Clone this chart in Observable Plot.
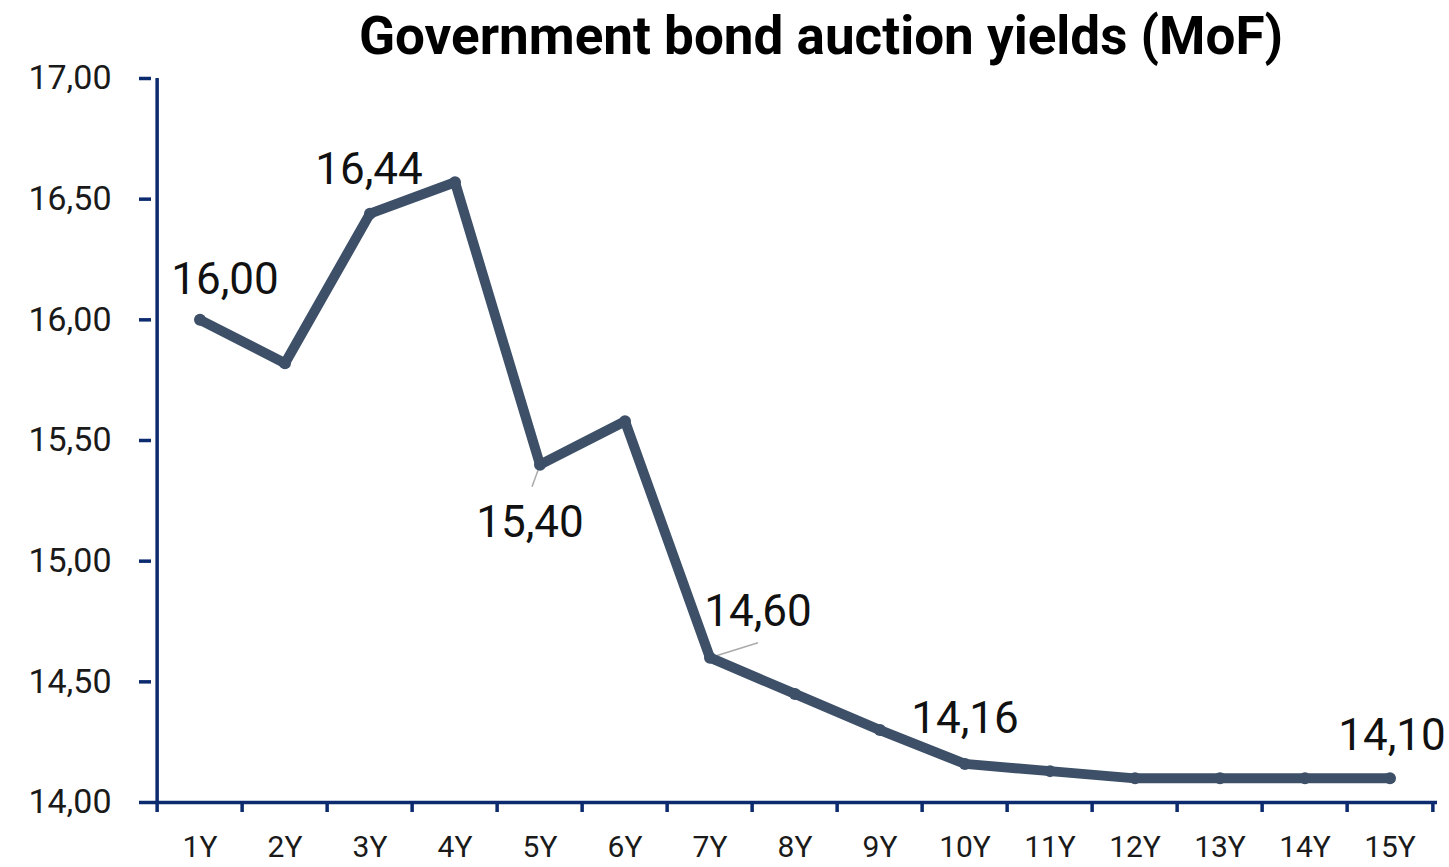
<!DOCTYPE html>
<html>
<head>
<meta charset="utf-8">
<script src="https://cdn.jsdelivr.net/npm/d3@7"></script>
<script src="https://cdn.jsdelivr.net/npm/@observablehq/plot@0.6"></script>
<style>
  html, body { margin: 0; padding: 0; background: #fff; overflow: hidden; }
  #title { position: absolute; left: 0; top: 0; width: 1449px; height: 30px; font-family: Roboto, sans-serif; font-weight: 700; font-size: 53px; color: #000; z-index: 2; }
  #title span { position: absolute; left: 821px; top: 7px; transform: translateX(-50%); white-space: nowrap; line-height: 1.1; }
  #chart { position: absolute; left: 0; top: 30px; z-index: 1; }
</style>
</head>
<body>
<div id="title"><span>Government bond auction yields (MoF)</span></div>
<div id="chart"></div>
<script>
const tenors = ["1Y","2Y","3Y","4Y","5Y","6Y","7Y","8Y","9Y","10Y","11Y","12Y","13Y","14Y","15Y"];
const yields = [16.00, 15.82, 16.44, 16.57, 15.40, 15.58, 14.60, 14.45, 14.30, 14.16, 14.13, 14.10, 14.10, 14.10, 14.10];
const yTicks = [14, 14.5, 15, 15.5, 16, 16.5, 17];
const labelBelow = ["5Y"];
const labelRight = ["7Y"];

const data = tenors.map((t, i) => ({tenor: t, value: yields[i]}));
const fmt = v => v.toFixed(2).replace(".", ",");
const axisColor = "#0c2a6e";
const lineColor = "#3d5068";
const W = 1449, H = 837;
const mL = 151, mR = 12, mT = 48, mB = 65;
const bw = (W - mL - mR) / tenors.length;
const pick = arr => data.filter(d => arr.includes(d.tenor));

const leader = (ddx, ddy) => (index, scales, values, dims, ctx, next) => {
  const g = next(index, scales, values, dims, ctx);
  d3.select(g).selectAll("path").attr("d", (_, j) => {
    const i = index[j]; const x = values.x1[i], y = values.y1[i];
    return `M${x},${y}L${x + ddx},${y + ddy}`;
  });
  return g;
};

const chart = Plot.plot({
  width: W, height: H,
  marginLeft: mL, marginRight: mR, marginTop: mT, marginBottom: mB,
  style: {fontFamily: "Roboto, sans-serif", background: "transparent", overflow: "visible"},
  x: {type: "band", domain: tenors, padding: 0, label: null},
  y: {domain: [14, 17], label: null},
  marks: [
    // y axis
    Plot.axisY({ticks: yTicks, tickFormat: fmt, tickSize: 12, tickPadding: 28, stroke: axisColor, strokeWidth: 3.5, fontSize: 34, color: "#1a1a1a"}),
    Plot.ruleX([0], {x: () => tenors[0], dx: -bw/2, y1: 14, y2: 17, stroke: axisColor, strokeWidth: 3.5}),
    // x axis: labels
    Plot.axisX({tickSize: 0, tickPadding: 33, fontSize: 30, color: "#1a1a1a"}),
    // x axis: boundary ticks
    Plot.axisX({tickSize: 10, tickFormat: () => "", dx: -bw/2, stroke: axisColor, strokeWidth: 3.5}),
    Plot.axisX({ticks: [tenors[tenors.length-1]], tickSize: 10, tickFormat: () => "", dx: bw/2, stroke: axisColor, strokeWidth: 3.5}),
    Plot.ruleY([14], {stroke: axisColor, strokeWidth: 3.5}),
    // leader lines
    Plot.link(pick(labelBelow), {x1: "tenor", y1: "value", x2: "tenor", y2: "value", stroke: "#aaa", strokeWidth: 1.5, render: leader(-8, 22)}),
    Plot.link(pick(labelRight), {x1: "tenor", y1: "value", x2: "tenor", y2: "value", stroke: "#aaa", strokeWidth: 1.5, render: leader(48, -15)}),
    // line
    Plot.line(data, {x: "tenor", y: "value", stroke: lineColor, strokeWidth: 10, strokeLinejoin: "round", strokeLinecap: "round"}),
    Plot.dot(data, {x: "tenor", y: "value", r: 6, fill: lineColor, stroke: "none"}),
    // data labels
    Plot.text(pick(["1Y"]), {x: "tenor", y: "value", text: d => fmt(d.value), dx: 25, dy: -40, fontSize: 44, fill: "#111"}),
    Plot.text(pick(["3Y"]), {x: "tenor", y: "value", text: d => fmt(d.value), dx: -1, dy: -44, fontSize: 44, fill: "#111"}),
    Plot.text(pick(labelBelow), {x: "tenor", y: "value", text: d => fmt(d.value), dx: -10, dy: 58, fontSize: 44, fill: "#111"}),
    Plot.text(pick(labelRight), {x: "tenor", y: "value", text: d => fmt(d.value), dx: 48, dy: -46, fontSize: 44, fill: "#111"}),
    Plot.text(pick(["10Y"]), {x: "tenor", y: "value", text: d => fmt(d.value), dx: 0, dy: -45, fontSize: 44, fill: "#111"}),
    Plot.text(pick(["15Y"]), {x: "tenor", y: "value", text: d => fmt(d.value), dx: 2, dy: -42, fontSize: 44, fill: "#111"})
  ]
});
document.getElementById("chart").appendChild(chart);
</script>
</body>
</html>
